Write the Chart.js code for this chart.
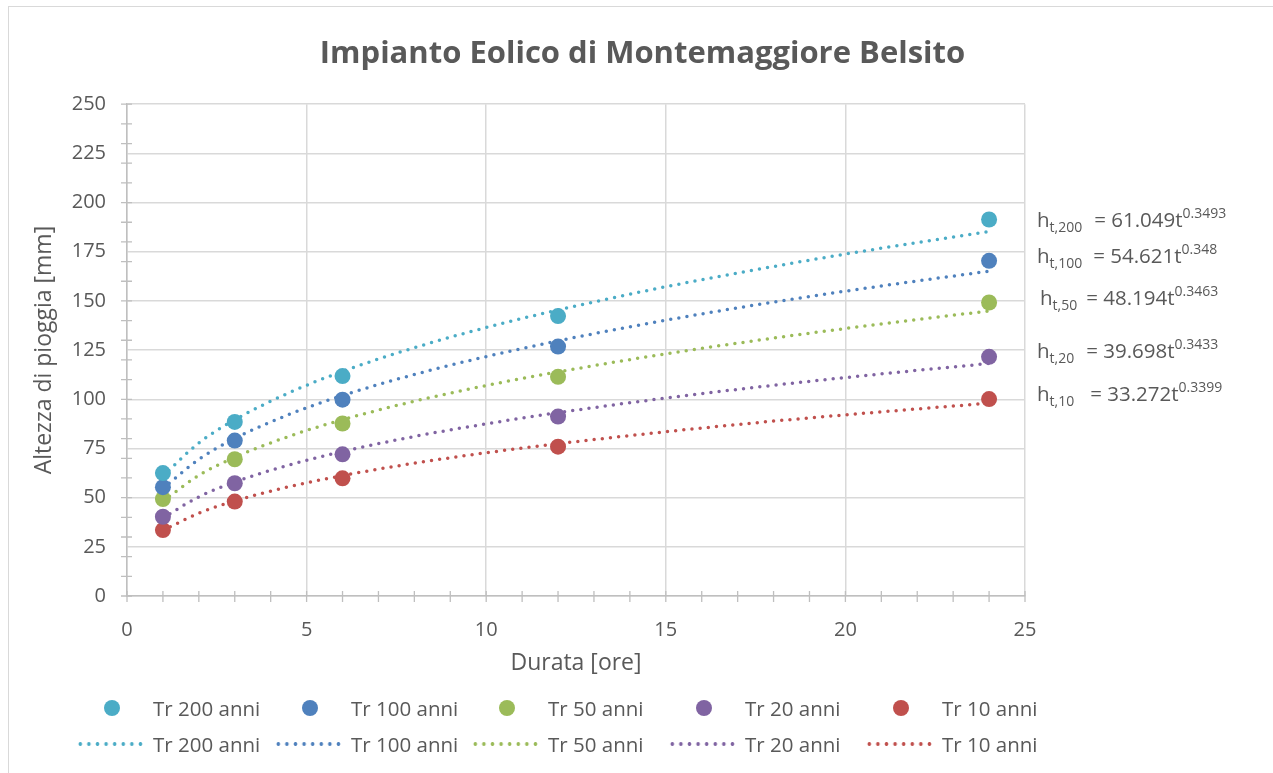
<!DOCTYPE html>
<html>
<head>
<meta charset="utf-8">
<script src="https://cdn.jsdelivr.net/npm/chart.js@4/dist/chart.umd.min.js"></script>
<style>
  body { margin: 0; background: #fff; font-family: "Open Sans", sans-serif; }
  #wrap { position: relative; width: 1273px; height: 773px; overflow: hidden; }
  #frame { position: absolute; left: 8px; top: 6px; width: 1300px; height: 800px; border: 1px solid #d9d9d9; }
  #mycanvas { position: absolute; left: 0; top: 0; }
  #legend { position: absolute; left: 0; top: 693px; width: 1273px; color: #595959; font-size: 20.5px; }
  .row { position: absolute; left: 0; height: 30px; }
  .item { position: absolute; top: 0; height: 30px; line-height: 30px; white-space: nowrap; }
  .dot { position: absolute; width: 16px; height: 16px; border-radius: 50%; top: 7px; }
  .dline { position: absolute; top: 13px; height: 4px; width: 70px;
           background-size: 8.6px 4px; background-repeat: repeat-x; }
</style>
</head>
<body>
<div id="wrap">
  <div id="frame"></div>
  <canvas id="mycanvas" width="1273" height="773"></canvas>
  <div id="legend"></div>
</div>
<script>
// durations (ore)
var durate = [1, 3, 6, 12, 24];
// measured rain heights (mm)
var tr200 = [62.5, 88.5, 111.8, 142.3, 191.4];
var tr100 = [55.3, 79.0, 99.8, 126.8, 170.4];
var tr50  = [49.3, 69.5, 87.7, 111.4, 149.2];
var tr20  = [40.3, 57.3, 72.0, 91.2, 121.6];
var tr10  = [33.5, 48.0, 59.8, 75.9, 100.1];

// trend lines
var trendX   = [1, 2, 3, 4.5, 6, 8, 10, 12, 15, 18, 21, 24];
var trend200 = [61.0, 77.8, 89.6, 103.2, 114.2, 126.2, 136.5, 145.4, 157.2, 167.5, 176.8, 185.3];
var trend100 = [54.6, 69.5, 80.1, 92.2, 101.9, 112.6, 121.7, 129.7, 140.2, 149.4, 157.6, 165.1];
var trend50  = [48.2, 61.3, 70.5, 81.1, 89.6, 99.0, 107.0, 113.9, 123.1, 131.1, 138.3, 144.9];
var trend20  = [39.7, 50.4, 57.9, 66.5, 73.4, 81.1, 87.5, 93.2, 100.6, 107.1, 112.9, 118.2];
var trend10  = [33.3, 42.1, 48.3, 55.5, 61.2, 67.5, 72.8, 77.4, 83.5, 88.9, 93.6, 98.0];

var labels = ["Tr 200 anni", "Tr 100 anni", "Tr 50 anni", "Tr 20 anni", "Tr 10 anni"];
var colors = ["#4bacc6", "#4f81bd", "#9bbb59", "#8064a2", "#c0504d"];

// trend equations shown at right
var eqSub  = ["t,200", "t,100", "t,50", "t,20", "t,10"];
var eqMain = ["61.049t", "54.621t", "48.194t", "39.698t", "33.272t"];
var eqExp  = ["0.3493", "0.348", "0.3463", "0.3433", "0.3399"];
var eqY    = [191, 173, 151.5, 124.5, 102.5];

var points = [tr200, tr100, tr50, tr20, tr10];
var trends = [trend200, trend100, trend50, trend20, trend10];

function pairs(xs, ys) {
	var out = [];
	for (var i in xs) out.push({x: xs[i], y: ys[i]});
	return out;
}

var datasets = [];
for (var i = 0; i < 5; i++) {
	datasets.push({
		label: labels[i],
		data: pairs(durate, points[i]),
		backgroundColor: colors[i],
		borderColor: colors[i],
		pointRadius: 8,
		pointHoverRadius: 8,
		pointBorderWidth: 0,
		showLine: false,
		order: 1
	});
}
for (var i = 0; i < 5; i++) {
	datasets.push({
		label: labels[i],
		data: pairs(trendX, trends[i]),
		borderColor: colors[i],
		backgroundColor: colors[i],
		borderWidth: 3.5,
		borderDash: [0, 8.2],
		borderCapStyle: "round",
		pointRadius: 0,
		showLine: true,
		cubicInterpolationMode: "monotone",
		order: 2
	});
}

var grey = "#595959";

// minor tick marks crossing the axes
var tickPlugin = {
	id: "crossTicks",
	afterDraw: function(chart) {
		var ctx = chart.ctx, xs = chart.scales.x, ys = chart.scales.y;
		var a = chart.chartArea;
		ctx.save();
		ctx.strokeStyle = "#bfbfbf";
		ctx.lineWidth = 1.3;
		ctx.beginPath();
		for (var v = 0; v <= 25; v++) {
			var px = xs.getPixelForValue(v);
			ctx.moveTo(px, a.bottom - 5);
			ctx.lineTo(px, a.bottom + 6);
		}
		for (var v = 0; v <= 250; v += 10) {
			var py = ys.getPixelForValue(v);
			ctx.moveTo(a.left - 6, py);
			ctx.lineTo(a.left + 5, py);
		}
		ctx.stroke();
		ctx.restore();
	}
};

// equations of trend lines
var eqPlugin = {
	id: "equations",
	afterDraw: function(chart) {
		var ctx = chart.ctx, ys = chart.scales.y;
		var x0 = chart.chartArea.right + 12;
		var shift = [0, 0, 3, 0, 0];
		var gap = [12, 11, 9, 12, 16];
		ctx.save();
		ctx.fillStyle = grey;
		ctx.textBaseline = "alphabetic";
		for (var i = 0; i < 5; i++) {
			var base = ys.getPixelForValue(eqY[i]) + 7;
			var x = x0 + shift[i];
			ctx.font = "20.5px 'Open Sans'";
			ctx.fillText("h", x, base);
			x += ctx.measureText("h").width;
			ctx.font = "14px 'Open Sans'";
			ctx.fillText(eqSub[i], x, base + 5);
			x += ctx.measureText(eqSub[i]).width + gap[i];
			ctx.font = "20.5px 'Open Sans'";
			var s = "= " + eqMain[i];
			ctx.fillText(s, x, base);
			x += ctx.measureText(s).width;
			ctx.font = "14px 'Open Sans'";
			ctx.fillText(eqExp[i], x, base - 9);
		}
		ctx.restore();
	}
};

var ctx = document.getElementById("mycanvas");
var chart = new Chart(ctx, {
	type: "scatter",
	data: { datasets: datasets },
	options: {
		responsive: false,
		animation: false,
		layout: { padding: { left: 12, right: 0, top: 0, bottom: 0 } },
		plugins: {
			legend: { display: false },
			tooltip: { enabled: false },
			title: {
				display: true,
				text: "Impianto Eolico di Montemaggiore Belsito",
				color: grey,
				font: { family: "'Open Sans'", size: 31, weight: "bold" },
				padding: { top: 36, bottom: 31 }
			}
		},
		scales: {
			x: {
				type: "linear",
				min: 0, max: 25,
				ticks: { stepSize: 5, color: grey, font: { family: "'Open Sans'", size: 20 }, padding: 22 },
				grid: { color: "#d9d9d9", lineWidth: 1.5, drawTicks: false },
				border: { color: "#bfbfbf", width: 1.5 },
				title: {
					display: true, text: "Durata [ore]", color: grey,
					font: { family: "'Open Sans'", size: 23 },
					padding: { top: 0, bottom: 96 }
				},
				afterFit: function(s) { s.height = 177; }
			},
			y: {
				min: 0, max: 250,
				ticks: { stepSize: 25, color: grey, font: { family: "'Open Sans'", size: 20 }, padding: 21 },
				grid: { color: "#d9d9d9", lineWidth: 1.5, drawTicks: false },
				border: { color: "#bfbfbf", width: 1.5 },
				title: {
					display: true, text: "Altezza di pioggia [mm]", color: grey,
					font: { family: "'Open Sans'", size: 23 },
					padding: { top: 19, bottom: 0 }
				},
				afterFit: function(s) { s.width = 115; }
			},
			yr: {
				position: "right",
				min: 0, max: 250,
				ticks: { display: false },
				grid: { display: false, drawTicks: false },
				border: { display: false },
				afterFit: function(s) { s.width = 248; }
			}
		}
	},
	plugins: [tickPlugin, eqPlugin]
});

// legend, two rows of five
var legend = document.getElementById("legend");
var colX = [112, 310, 507, 704, 901];
var row1 = document.createElement("div"); row1.className = "row"; row1.style.top = "0px";
var row2 = document.createElement("div"); row2.className = "row"; row2.style.top = "36px";
for (var i = 0; i < 5; i++) {
	var it = document.createElement("div");
	it.className = "item";
	it.style.left = (colX[i] - 8) + "px";
	it.innerHTML = '<span class="dot" style="left:0;background:' + colors[i] + '"></span>' +
		'<span style="margin-left:49px">' + labels[i] + '</span>';
	row1.appendChild(it);

	var it2 = document.createElement("div");
	it2.className = "item";
	it2.style.left = (colX[i] - 36) + "px";
	it2.innerHTML = '<span class="dline" style="left:0;background-image:radial-gradient(circle, ' + colors[i] +
		' 1.6px, transparent 2.1px)"></span><span style="margin-left:77px">' + labels[i] + '</span>';
	row2.appendChild(it2);
}
legend.appendChild(row1);
legend.appendChild(row2);
</script>
</body>
</html>
